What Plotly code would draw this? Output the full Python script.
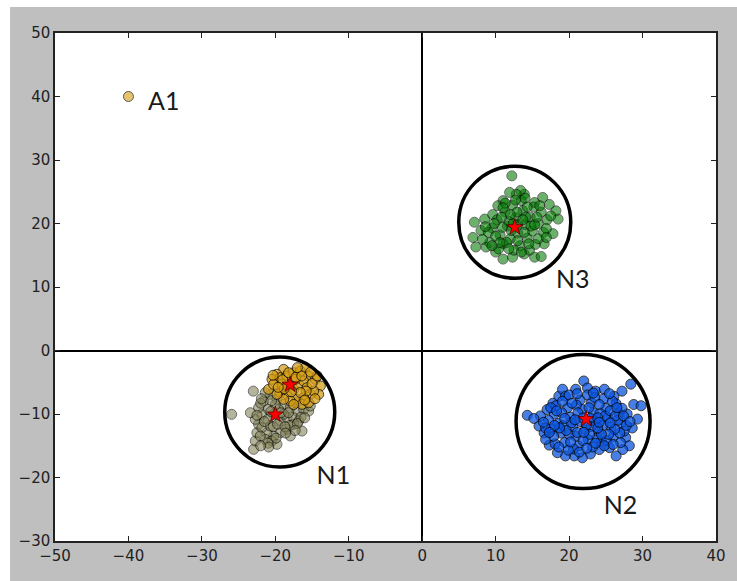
import plotly.graph_objects as go

# ---------------- data ----------------
n1_olive_x = [-22.96, -22.73, -22.51, -22.28, -22.73, -21.83, -22.28, -21.6, -20.69, -21.37, -19.78, -18.87,
              -17.96, -17.05, -16.14, -15.46, -15.24, -16.37, -17.51, -18.42, -19.33, -20.23, -21.14, -21.83,
              -20.69, -19.33, -18.42, -20.24, -20.92, -19.55, -18.87, -17.51, -16.83, -21.37, -20.46, -19.78,
              -22.05, -17.96, -25.95, -23.4, -23.0, -20.0, -19.2, -21.0, -18.0, -20.3, -17.2, -16.5, -22.0,
              -21.5, -20.6, -19.7, -18.7, -19.9, -21.0, -18.2, -17.0, -16.0, -22.5, -21.9, -20.5, -18.6, -17.3,
              -20.9, -22.0]
n1_olive_y = [-15.56, -14.25, -12.94, -11.63, -10.84, -10.05, -9.0, -7.95, -6.9, -6.64, -7.69, -8.48,
              -9.0, -9.53, -9.27, -9.53, -8.74, -12.68, -11.63, -12.41, -12.94, -13.46, -12.94, -12.15,
              -11.89, -11.1, -10.58, -10.05, -9.27, -9.27, -10.05, -10.58, -11.1, -13.99, -14.25, -14.78,
              -13.46, -13.46, -10.05, -9.8, -6.4, -8.5, -9.8, -10.8, -11.8, -12.0, -8.2, -10.5, -8.3,
              -11.2, -9.6, -11.6, -12.0, -13.8, -14.6, -9.8, -11.5, -10.6, -10.2, -7.6, -7.9, -13.0, -12.6,
              -15.2, -15.0]

n1_gold_x = [-18.87, -19.78, -20.46, -20.92, -20.24, -19.33, -18.42, -17.51, -16.6, -15.92, -15.46, -14.55,
             -13.87, -14.1, -19.33, -18.42, -17.51, -16.83, -16.15, -15.69, -15.24, -16.15, -17.05, -17.96,
             -18.87, -16.37, -15.46, -14.78, -17.28, -18.19, -19.1, -19.78,
             -19.0, -18.2, -17.2, -16.4, -15.0, -15.8, -16.6, -17.8, -18.8, -19.6, -16.0, -17.5, -14.6,
             -14.3, -15.2, -20.3, -17.0]
n1_gold_y = [-2.97, -3.75, -4.54, -6.12, -5.33, -4.28, -4.02, -3.49, -3.23, -2.7, -4.02, -4.54,
             -5.59, -6.9, -6.64, -6.9, -6.12, -5.33, -4.8, -5.85, -6.9, -7.43, -7.69, -7.95,
             -7.69, -8.48, -8.22, -6.38, -4.54, -5.33, -5.33, -6.9,
             -4.6, -3.5, -4.2, -4.0, -5.2, -6.4, -6.6, -6.5, -6.0, -5.8, -7.8, -8.5, -7.6,
             -4.0, -3.4, -3.9, -2.7]

n2_x = [14.3, 16.1, 15.9, 16.6, 17.0, 17.8, 18.6, 19.1, 19.5, 20.9, 22.0, 22.5, 23.6, 24.8, 26.1, 27.2, 28.4,
        28.8, 29.8, 29.3, 28.6, 27.7, 28.2, 27.3, 26.4, 25.5, 24.1, 22.9, 21.8, 20.7, 19.5, 18.4, 17.3, 16.8,
        18.0, 18.5, 18.9, 19.4, 19.8, 20.2, 20.5, 20.9, 21.3, 21.5, 21.8, 22.2, 22.6, 23.0, 23.3, 23.7, 24.0,
        24.4, 24.7, 25.0, 25.3, 25.7, 26.0, 26.4, 26.8, 27.1, 27.5, 17.2, 17.6, 18.2, 19.2, 20.0, 21.0, 22.9,
        23.8, 24.6, 25.9, 26.6, 27.9, 19.0, 20.6, 23.2, 25.1, 21.6, 22.5, 24.2, 18.1, 27.0, 16.8, 23.0,
        17.5, 18.3, 19.1, 20.0, 20.4, 21.2, 21.9, 22.7, 23.5, 24.1, 24.9, 25.6, 26.3, 27.2, 27.8, 26.9,
        26.2, 25.4, 24.8, 23.6, 22.8, 21.9, 21.1, 20.3, 19.6, 18.7, 17.9, 18.6, 19.9, 21.4, 22.4, 23.9,
        22.4, 20.8, 19.4, 25.6, 24.4, 26.0, 27.4, 28.3, 23.3, 21.1, 25.5, 18.0, 17.3, 16.5, 15.2, 20.2,
        22.0, 23.9, 26.5, 24.1]
n2_y = [-10.2, -10.3, -11.9, -13.0, -9.3, -8.3, -7.2, -6.1, -7.2, -6.1, -4.8, -5.9, -6.4, -6.1, -7.2, -6.4, -5.3,
        -8.5, -8.7, -10.8, -12.2, -13.7, -15.0, -15.6, -16.6, -15.3, -15.6, -16.3, -16.9, -16.6, -16.6, -16.1,
        -14.9, -14.0, -10.0, -11.5, -13.0, -14.5, -9.0, -10.5, -12.0, -13.5, -15.0, -7.8, -9.3, -12.5, -14.0,
        -8.2, -9.8, -11.3, -12.8, -14.3, -7.6, -9.1, -10.6, -12.1, -13.6, -8.4, -9.9, -11.4, -12.7, -11.0,
        -12.4, -8.7, -11.8, -13.2, -8.6, -10.7, -13.8, -11.8, -8.0, -11.0, -10.0, -9.8, -15.5, -15.2, -14.2,
        -11.2, -7.0, -9.9, -14.7, -14.5, -12.2, -12.0,
        -9.0, -9.5, -8.0, -7.0, -8.3, -9.8, -10.6, -9.0, -7.4, -8.5, -10.3, -9.5, -10.3, -9.1, -11.8, -13.0,
        -12.4, -13.2, -15.0, -14.6, -13.2, -14.2, -12.9, -11.4, -12.6, -12.2, -13.5, -15.2, -15.7, -16.0,
        -15.4, -10.6, -11.7, -10.9, -10.7, -11.4, -13.2, -14.8, -10.3, -11.2, -6.7, -6.8, -6.8, -11.8,
        -12.9, -11.3, -10.7, -14.4, -12.9, -12.2, -9.0, -11.3]

n3_x = [12.2, 6.9, 7.3, 7.1, 8.5, 8.7, 10.0, 11.0, 12.3, 13.9, 15.3, 16.2, 16.6, 17.8, 18.5, 18.2, 17.3, 16.4,
        15.3, 13.9, 13.4, 12.8, 11.9, 11.0, 10.3, 9.6, 8.0, 9.2, 9.5, 10.2, 10.6, 11.0, 11.3, 11.6, 12.0, 12.3,
        12.7, 13.0, 13.3, 13.7, 14.0, 14.3, 14.7, 15.0, 15.4, 15.8, 16.2, 16.5, 17.0, 10.4, 12.5, 14.6, 9.0,
        11.8, 13.5, 15.2, 12.1, 14.1, 10.8, 16.9, 11.3, 13.0, 14.8,
        10.0, 10.9, 11.5, 12.4, 12.9, 13.7, 13.9, 14.5, 15.3, 15.8, 16.0, 14.3, 12.0, 11.0, 9.8, 8.6,
        11.8, 13.0, 14.0, 15.6, 16.9, 12.7, 10.6, 13.5, 8.2, 9.5, 17.5]
n3_y = [27.5, 17.8, 16.3, 20.2, 20.7, 16.3, 15.5, 14.4, 14.7, 15.2, 14.7, 14.8, 16.8, 18.4, 20.7, 22.0, 23.0,
        24.1, 23.3, 24.6, 25.2, 24.6, 24.9, 23.6, 22.8, 21.4, 18.9, 17.0, 19.3, 20.6, 18.2, 16.8, 21.8, 19.6,
        17.6, 22.9, 20.9, 18.5, 16.5, 22.0, 19.8, 17.7, 21.0, 18.8, 16.7, 20.0, 21.8, 18.6, 20.6, 16.0, 15.8,
        15.8, 18.6, 20.3, 23.6, 22.6, 18.9, 21.0, 21.0, 19.2, 23.2, 19.8, 19.6,
        18.0, 19.4, 17.0, 20.0, 21.8, 20.6, 18.6, 16.8, 19.8, 17.6, 22.8, 22.6, 21.4, 22.5, 20.0, 19.5,
        16.0, 17.3, 24.0, 21.0, 17.8, 23.7, 17.0, 15.5, 17.5, 16.5, 21.2]

a1_x = [-40.0]
a1_y = [40.0]

star_x = [-20.0, -18.0, 22.3, 12.6]
star_y = [-10.1, -5.4, -10.8, 19.4]

circle_x = [-19.4, 21.9, 12.6]
circle_y = [-9.7, -11.2, 20.2]
circle_px = [110, 134, 112]

label_text = ["A1", "N1", "N2", "N3"]
label_x = [-35.2, -12.1, 27.0, 20.5]
label_y = [38.8, -20.1, -24.8, 10.8]

x_ticks = [-50, -40, -30, -20, -10, 0, 10, 20, 30, 40]
y_ticks = [-30, -20, -10, 0, 10, 20, 30, 40, 50]

# ---------------- figure ----------------
fig = go.Figure()

def cloud(x, y, color, opacity):
    fig.add_trace(go.Scatter(
        x=x, y=y, mode="markers", showlegend=False, hoverinfo="skip",
        marker=dict(size=10, color=color, opacity=opacity,
                    line=dict(color="#000000", width=1))))

cloud(n1_olive_x, n1_olive_y, "#808055", 0.58)
cloud(n1_gold_x, n1_gold_y, "#d49c10", 0.72)
cloud(n2_x, n2_y, "#0a55e0", 0.75)
cloud(n3_x, n3_y, "#007a00", 0.58)
cloud(a1_x, a1_y, "#daa520", 0.65)

fig.add_trace(go.Scatter(
    x=circle_x, y=circle_y, mode="markers", showlegend=False, hoverinfo="skip",
    marker=dict(symbol="circle-open", size=circle_px, color="#000000", opacity=1,
                line=dict(color="#000000", width=3.5))))

fig.add_trace(go.Scatter(
    x=star_x, y=star_y, mode="markers", showlegend=False, hoverinfo="skip",
    marker=dict(symbol="star", size=12, color="#ff0000", opacity=1,
                line=dict(color="#5a0000", width=0.8))))

fig.add_trace(go.Scatter(
    x=label_x, y=label_y, mode="text", text=label_text, showlegend=False,
    hoverinfo="skip", textposition="middle center",
    textfont=dict(family="Lato", size=25, color="#1a1a1a")))

axis_common = dict(
    showgrid=False, zeroline=True, zerolinecolor="#000000", zerolinewidth=1.5,
    showline=True, linecolor="#222222", linewidth=1.5, mirror="allticks",
    ticks="inside", ticklen=5, tickwidth=1, tickcolor="#222222",
    tickfont=dict(family="DejaVu Sans", size=15, color="#222222"),
)

fig.update_xaxes(range=[-50, 40], tickvals=x_ticks, **axis_common)
fig.update_yaxes(range=[-30, 50], tickvals=y_ticks, **axis_common)

fig.update_layout(
    width=737, height=581,
    margin=dict(l=55, r=21, t=33, b=40),
    paper_bgcolor="#bfbfbf", plot_bgcolor="#ffffff",
    shapes=[
        dict(type="rect", xref="paper", yref="paper", x0=-0.2, x1=1.2,
             y0=1.051, y1=1.2, fillcolor="#ffffff", line=dict(width=0), layer="above"),
        dict(type="rect", xref="paper", yref="paper", x0=-0.2, x1=-0.068,
             y0=-0.2, y1=1.2, fillcolor="#ffffff", line=dict(width=0), layer="above"),
    ],
)

fig.write_html("out.html")
